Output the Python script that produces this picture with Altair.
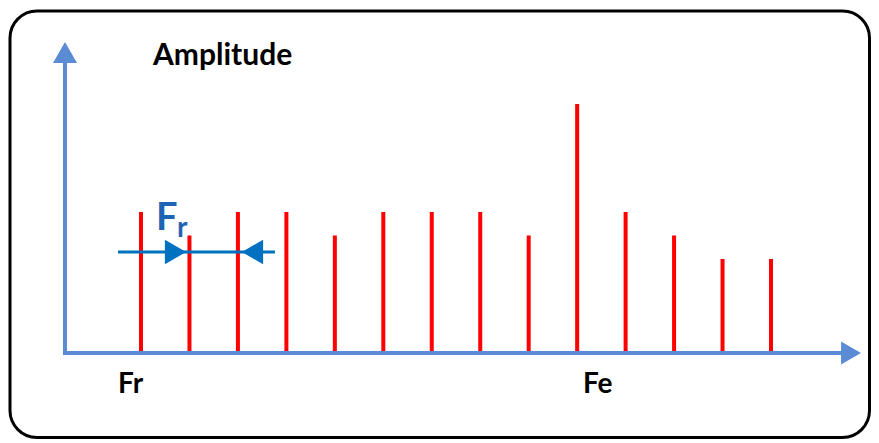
import altair as alt
import pandas as pd

# Data: harmonic index and amplitude of each spectral line
harmonic = [1, 2, 3, 4, 5, 6, 7, 8, 9, 10, 11, 12, 13, 14]
amplitude = [6, 5, 6, 6, 5, 6, 6, 6, 5, 10.6, 6, 5, 4, 4]

W, H = 863, 431
AXIS_BLUE = "#5B8BD5"
DARK_BLUE = "#0070C0"

df = pd.DataFrame({"k": harmonic, "amp": amplitude})

xs = alt.Scale(domain=[-1.7444, 16.0635], nice=False, zero=False)
ys = alt.Scale(domain=[-3.6596, 14.681], nice=False, zero=False)

one = pd.DataFrame({"a": [0]})
base = alt.Chart(one)

border = base.mark_rect(fill="white", stroke="black", strokeWidth=3, cornerRadius=27).encode(
    x=alt.value(2), x2=alt.value(861.5), y=alt.value(3), y2=alt.value(429.5)
)

yaxis = base.mark_rule(color=AXIS_BLUE, strokeWidth=4).encode(
    x=alt.value(57), y=alt.value(347), y2=alt.value(50)
)
xaxis = base.mark_rule(color=AXIS_BLUE, strokeWidth=4).encode(
    x=alt.value(55), x2=alt.value(838), y=alt.value(345)
)
yhead = base.mark_point(shape="triangle-up", filled=True, opacity=1, color=AXIS_BLUE, size=576).encode(
    x=alt.value(57), y=alt.value(44.5)
)
xhead = base.mark_point(shape="triangle-right", filled=True, opacity=1, color=AXIS_BLUE, size=529).encode(
    x=alt.value(843), y=alt.value(345)
)

stems = alt.Chart(df).mark_rule(color="#FF0000", strokeWidth=4).encode(
    x=alt.X("k:Q", scale=xs, axis=None),
    y=alt.Y("amp:Q", scale=ys, axis=None),
    y2=alt.datum(0),
)

frline = base.mark_rule(color=DARK_BLUE, strokeWidth=3).encode(
    x=alt.value(110), x2=alt.value(267), y=alt.value(244)
)
frhead_r = base.mark_point(shape="triangle-right", filled=True, opacity=1, color=DARK_BLUE, size=600).encode(
    x=alt.value(167.5), y=alt.value(244)
)
frhead_l = base.mark_point(shape="triangle-left", filled=True, opacity=1, color=DARK_BLUE, size=600).encode(
    x=alt.value(244.5), y=alt.value(244)
)

def label(txt, x, y, size, color="black", weight="normal"):
    return base.mark_text(
        text=txt, align="left", baseline="alphabetic", font="Lato",
        fontSize=size, fontWeight=weight, color=color,
    ).encode(x=alt.value(x), y=alt.value(y))

t_amp = label("Amplitude", 145, 57, 30, weight="bold")
t_fr = label("Fr", 110, 385, 28, weight="bold")
t_fe = label("Fe", 575, 385, 28, weight="bold")
t_F = label("F", 148, 222, 38, color="#1F64B4", weight="bold")
t_r = label("r", 169, 229, 28, color="#1F64B4", weight="bold")

chart = alt.layer(
    border, stems, yaxis, xaxis, yhead, xhead, frline, frhead_r, frhead_l,
    t_amp, t_fr, t_fe, t_F, t_r,
).properties(
    width=W, height=H, padding=0, autosize=alt.AutoSizeParams(type="none")
).configure_view(stroke=None)

chart.save("out.html", embed_options={"renderer": "svg", "actions": False})
